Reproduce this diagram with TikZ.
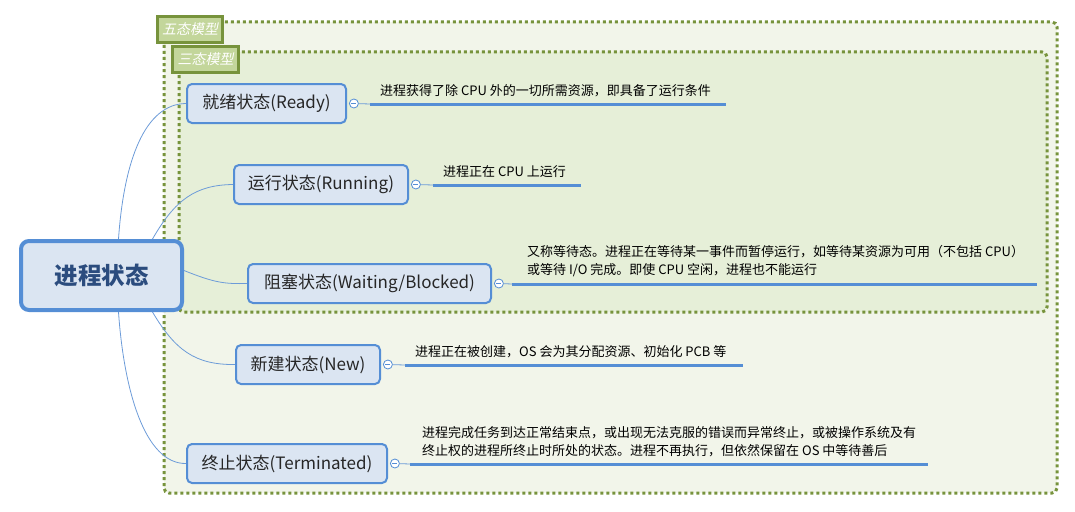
\documentclass[tikz,border=0pt]{standalone}
\usepackage{fontspec}
\setmainfont{Noto Sans CJK SC}
\newfontfamily\slantfont[FakeSlant=0.2]{Noto Sans CJK SC}
\usepackage{tikz}
\usetikzlibrary{positioning}

\definecolor{olive}{HTML}{77933C}
\definecolor{tagfill}{HTML}{C3D69B}
\definecolor{fivefill}{HTML}{F2F5EA}
\definecolor{threefill}{HTML}{E6EFD8}
\definecolor{nodefill}{HTML}{DBE5F2}
\definecolor{nodeline}{HTML}{558ED5}
\definecolor{twigcol}{HTML}{6C9BD8}
\definecolor{titlecol}{HTML}{2B4C7E}

\begin{document}
\begin{tikzpicture}[x=1pt,y=-1pt,
  zone/.style={draw=olive, line width=3pt, dash pattern=on 3pt off 3pt, rounded corners=5pt},
  tag/.style={fill=tagfill, draw=olive, line width=3pt, text=white, font=\slantfont\fontsize{14}{14}\selectfont, minimum height=26pt, inner sep=0pt},
  state/.style={fill=nodefill, draw=nodeline, line width=2pt, rounded corners=5pt, minimum height=39pt, inner sep=0pt, text=black!85, font=\fontsize{17}{17}\selectfont},
  root/.style={fill=nodefill, draw=nodeline, line width=4pt, rounded corners=8pt, minimum width=161pt, minimum height=69pt, text=titlecol, font=\bfseries\fontsize{23.5}{23.5}\selectfont},
  toggle/.style={circle, draw=nodeline, fill=white, line width=0.8pt, minimum size=9pt, inner sep=0pt,
    path picture={\draw[nodeline, line width=0.8pt] ([xshift=-2.5pt]path picture bounding box.center) -- ([xshift=2.5pt]path picture bounding box.center);}},
  twig/.style={draw=twigcol, line width=0.8pt},
  stem/.style={draw=nodeline, line width=3pt},
  note/.style={inner sep=0pt, anchor=west, align=left, text=black, font=\fontsize{13}{18}\selectfont}]
\useasboundingbox (0,0) rectangle (1075,511);

% model zones
\filldraw[zone, fill=fivefill] (164,22) rectangle (1057,493);
\filldraw[zone, fill=threefill] (179,52) rectangle (1047,312);
\node[tag, minimum width=65pt] (five) at (190,29.5) {五态模型};
\node[tag, minimum width=66pt] (three) at (205.5,59.5) {三态模型};

% states
\node[root] (proc) at (101.5,275.5) {进程状态};
\node[state, minimum width=159pt] (ready) at (266.5,103.5) {就绪状态(Ready)};
\node[state, minimum width=174pt] (run) at (321,184.5) {运行状态(Running)};
\node[state, minimum width=243pt] (block) at (369.5,283.5) {阻塞状态(Waiting/Blocked)};
\node[state, minimum width=144pt] (new) at (308,364.5) {新建状态(New)};
\node[state, minimum width=200pt] (term) at (287,463.5) {终止状态(Terminated)};

\draw[twig] ([xshift=17pt]proc.north) .. controls (124,160) and (145,104) .. (ready.west);
\draw[twig] ([xshift=51pt]proc.north) .. controls (175,200) and (195,185) .. (run.west);
\draw[twig] ([yshift=5pt]proc.east) .. controls (215,283) and (225,284) .. (block.west);
\draw[twig] ([xshift=51pt]proc.south) .. controls (175,350) and (195,365) .. (new.west);
\draw[twig] ([xshift=17pt]proc.south) .. controls (124,391) and (145,464) .. (term.west);

% notes
\node[toggle, right=2pt of ready] (readyc) {};
\coordinate (readya) at (370,104);
\coordinate (readyb) at (726,104);
\draw[twig] (readyc) -- (readya);
\draw[stem] (readya) -- (readyb);
\node[note] (readyt) at (380,91) {进程获得了除 CPU 外的一切所需资源，即具备了运行条件};

\node[toggle, right=2pt of run] (runc) {};
\coordinate (runa) at (433,185);
\coordinate (runb) at (581,185);
\draw[twig] (runc) -- (runa);
\draw[stem] (runa) -- (runb);
\node[note] (runt) at (443,172) {进程正在 CPU 上运行};

\node[toggle, right=2pt of block] (blockc) {};
\coordinate (blocka) at (512,284);
\coordinate (blockb) at (1037,284);
\draw[twig] (blockc) -- (blocka);
\draw[stem] (blocka) -- (blockb);
\node[note] (blockt) at (527,261) {又称等待态。进程正在等待某一事件而暂停运行，如等待某资源为可用（不包括 CPU）\\或等待 I/O 完成。即使 CPU 空闲，进程也不能运行};

\node[toggle, right=2pt of new] (newc) {};
\coordinate (newa) at (405,365);
\coordinate (newb) at (743,365);
\draw[twig] (newc) -- (newa);
\draw[stem] (newa) -- (newb);
\node[note] (newt) at (415,352) {进程正在被创建，OS 会为其分配资源、初始化 PCB 等};

\node[toggle, right=2pt of term] (termc) {};
\coordinate (terma) at (410,464);
\coordinate (termb) at (928,464);
\draw[twig] (termc) -- (terma);
\draw[stem] (terma) -- (termb);
\node[note] (termt) at (422,442) {进程完成任务到达正常结束点，或出现无法克服的错误而异常终止，或被操作系统及有\\终止权的进程所终止时所处的状态。进程不再执行，但依然保留在 OS 中等待善后};
\end{tikzpicture}
\end{document}
